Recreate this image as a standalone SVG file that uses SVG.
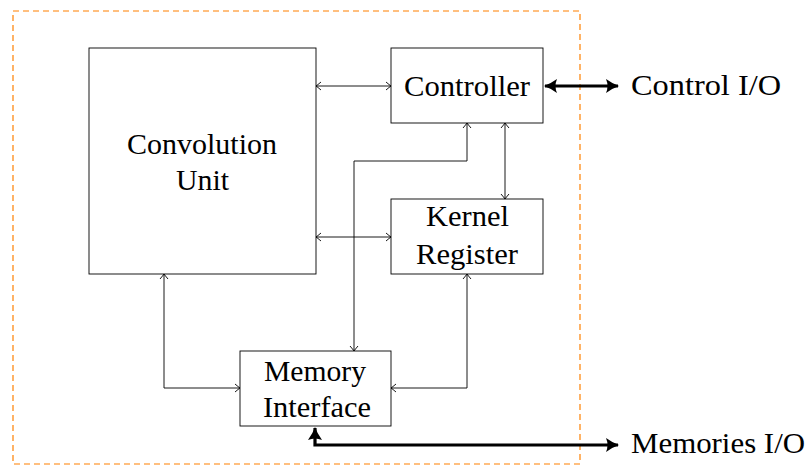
<svg xmlns="http://www.w3.org/2000/svg" width="809" height="465" viewBox="0 0 809 465">
<style>
.box{fill:#fff;stroke:#000;stroke-width:0.9}
.c{fill:none;stroke:#000;stroke-width:0.9}
.ct{fill:none;stroke:#000;stroke-width:3.2}
</style>
<defs>
<marker id="a" viewBox="-6 -5 8 10" markerWidth="8" markerHeight="10" refX="0" refY="0" orient="auto-start-reverse" markerUnits="userSpaceOnUse">
<path d="M-5,-4 Q-1.5,-1 0,0 Q-1.5,1 -5,4" fill="none" stroke="#000" stroke-width="0.9"/>
</marker>
<marker id="b" viewBox="-14 -8 16 16" markerWidth="16" markerHeight="16" refX="0" refY="0" orient="auto-start-reverse" markerUnits="userSpaceOnUse">
<path d="M-12,-7 Q-5,-2 1,0 Q-5,2 -12,7 Q-9,0 -12,-7 Z" fill="#000"/>
</marker>
</defs>
<rect x="13" y="11" width="567" height="453" fill="none" stroke="#ff8000" stroke-width="1.2" stroke-dasharray="6,4"/>
<g id="connectors">
<path class="c" d="M316,86 H391" marker-start="url(#a)" marker-end="url(#a)"/>
<path class="c" d="M316,237 H391" marker-start="url(#a)" marker-end="url(#a)"/>
<path class="c" d="M505,123 V199" marker-start="url(#a)" marker-end="url(#a)"/>
<path class="c" d="M467,123 V161 H354 V351" marker-start="url(#a)" marker-end="url(#a)"/>
<path class="c" d="M164,274 V388 H240" marker-start="url(#a)" marker-end="url(#a)"/>
<path class="c" d="M467,274 V388 H391" marker-start="url(#a)" marker-end="url(#a)"/>
<path class="ct" d="M545,86 H618" marker-start="url(#b)" marker-end="url(#b)"/>
<path class="ct" d="M315,428 V445 H618" marker-start="url(#b)" marker-end="url(#b)"/>
</g>
<g font-family="Liberation Serif, DejaVu Serif, serif" font-size="29" fill="#000">
<g id="conv" text-anchor="middle">
<rect class="box" x="89" y="48" width="227" height="226"/>
<text x="202" y="154" textLength="150" lengthAdjust="spacingAndGlyphs">Convolution</text>
<text x="202.5" y="190" textLength="53" lengthAdjust="spacingAndGlyphs">Unit</text>
</g>
<g id="controller" text-anchor="middle">
<rect class="box" x="391" y="48" width="152" height="75"/>
<text x="467" y="95.5" textLength="126" lengthAdjust="spacingAndGlyphs">Controller</text>
</g>
<g id="kernel" text-anchor="middle">
<rect class="box" x="391" y="199" width="152" height="75"/>
<text x="467.5" y="226" textLength="83" lengthAdjust="spacingAndGlyphs">Kernel</text>
<text x="467" y="264" textLength="102" lengthAdjust="spacingAndGlyphs">Register</text>
</g>
<g id="memory" text-anchor="middle">
<rect class="box" x="240" y="351" width="151" height="75"/>
<text x="315" y="381" textLength="102" lengthAdjust="spacingAndGlyphs">Memory</text>
<text x="317" y="417" textLength="108" lengthAdjust="spacingAndGlyphs">Interface</text>
</g>
<g id="labels">
<text x="631" y="95" textLength="150" lengthAdjust="spacingAndGlyphs">Control I/O</text>
<text x="631" y="453" textLength="174" lengthAdjust="spacingAndGlyphs">Memories I/O</text>
</g>
</g>
</svg>
